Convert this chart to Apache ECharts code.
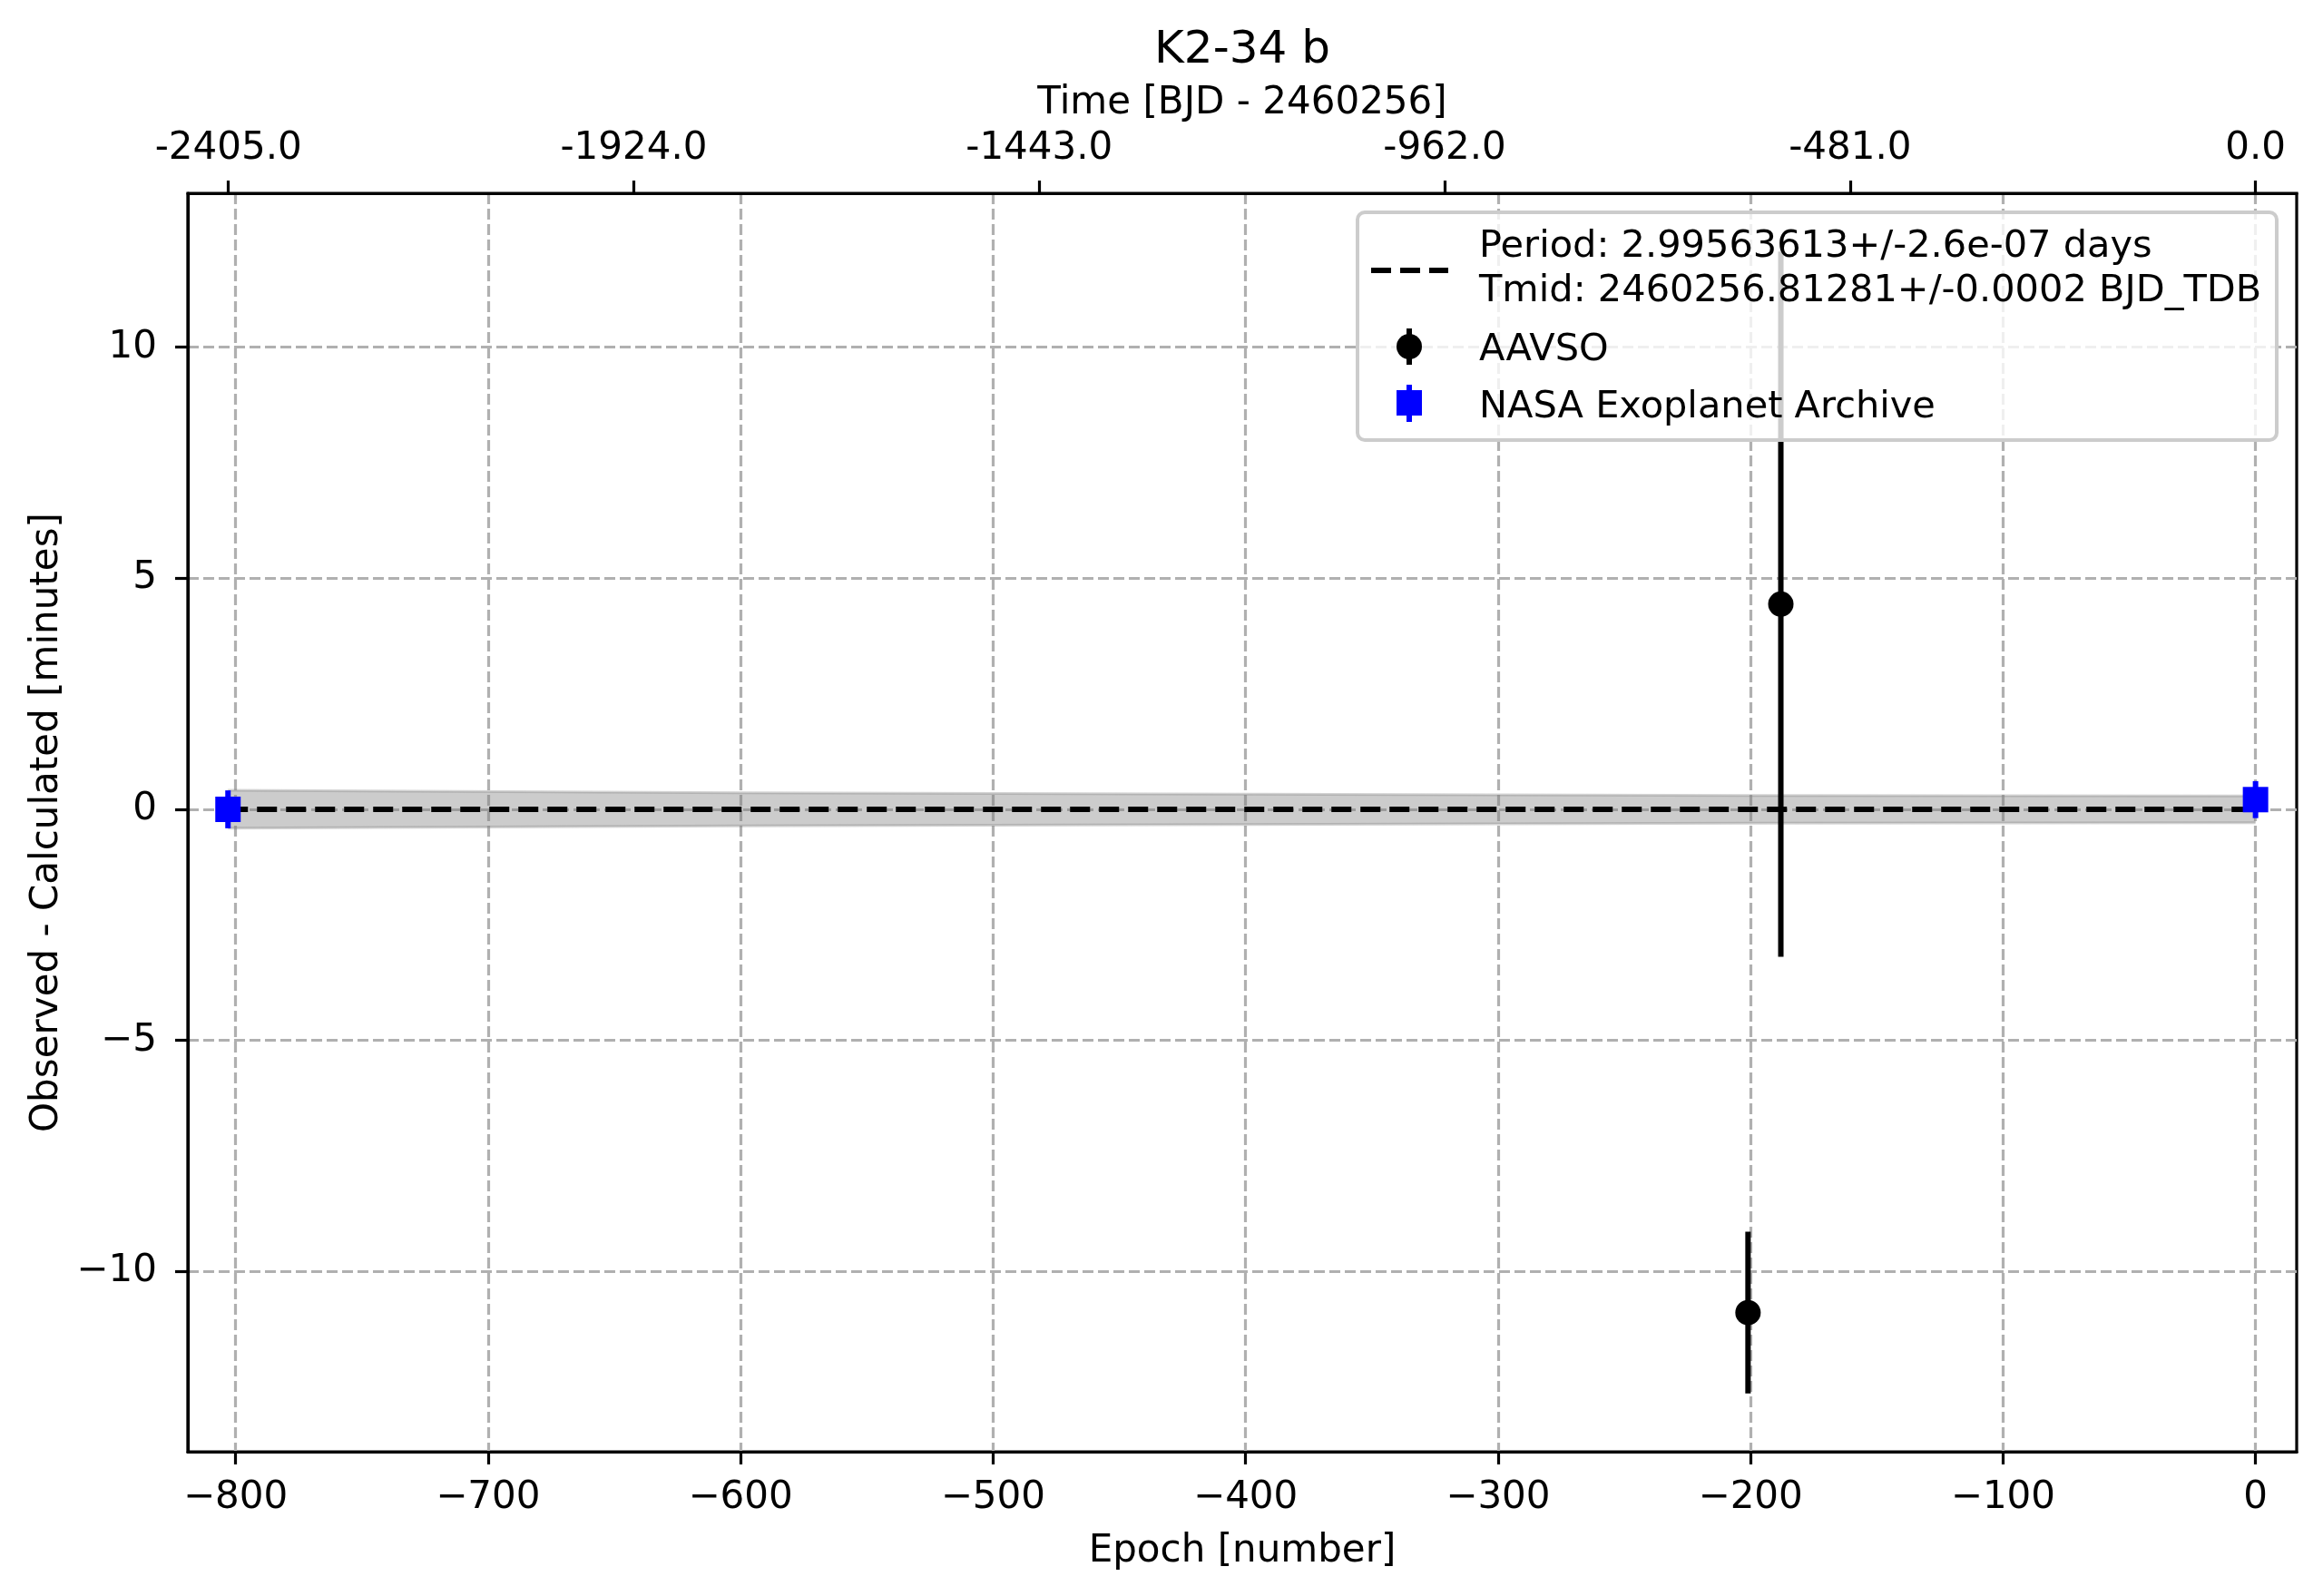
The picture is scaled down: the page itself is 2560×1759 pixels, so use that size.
<!DOCTYPE html>
<html>
<head>
<meta charset="utf-8">
<title>K2-34 b</title>
<script src="https://cdn.jsdelivr.net/npm/echarts@6/dist/echarts.min.js"></script>
<style>
  html, body { margin: 0; padding: 0; background: #ffffff; }
  #chart { width: 2560px; height: 1759px; }
</style>
</head>
<body>
<div id="chart"></div>
<script>
// ephemeris from the fit
const PERIOD = 2.99563613;
const PERIOD_ERR = '2.6e-07';
const TMID = '2460256.81281';
const TMID_ERR = '0.0002';

// axis ranges and ticks
const epochMin = -818.9;
const epochMax = 16.3;
const ocMin = -13.9;
const ocMax = 13.33;
const epochTicks = [-800, -700, -600, -500, -400, -300, -200, -100, 0];
const ocTicks = [-10, -5, 0, 5, 10];
const timeTicks = [-2405.0, -1924.0, -1443.0, -962.0, -481.0, 0.0];

// AAVSO transits (epoch, O-C minutes, error minutes)
const aavsoEpoch = [-201, -188];
const aavsoOC = [-10.89, 4.44];
const aavsoErr = [1.75, 7.63];

// NASA Exoplanet Archive transits
const nasaEpoch = [-803, 0];
const nasaOC = [0.0, 0.21];
const nasaErr = [0.41, 0.40];

// linear ephemeris line and its uncertainty band
const fitEpoch = [-803, 0];
const fitOC = [0, 0];
const bandEpoch = [-803, -600, -400, -200, 0];
const bandHalf = [0.41, 0.36, 0.33, 0.30, 0.29];

const FONT = 'DejaVu Sans';
const FS = 42;
const minus = v => (v < 0 ? '\u2212' + Math.abs(v) : String(v));

const chart = echarts.init(document.getElementById('chart'), null, { renderer: 'canvas' });

function errorBars(name, xs, ys, errs, color) {
    return {
        name: name,
        type: 'custom',
        z: 3,
        silent: true,
        data: xs.map((x, i) => [x, ys[i] - errs[i], ys[i] + errs[i]]),
        encode: { x: 0, y: [1, 2] },
        renderItem: function (params, api) {
            const lo = api.coord([api.value(0), api.value(1)]);
            const hi = api.coord([api.value(0), api.value(2)]);
            return {
                type: 'line',
                shape: { x1: lo[0], y1: lo[1], x2: hi[0], y2: hi[1] },
                style: { stroke: color, lineWidth: 6 }
            };
        }
    };
}

const axisLineStyle = { color: '#000', width: 3.2 };
const gridLineStyle = { color: '#b0b0b0', width: 3.2, type: [12, 5] };
const legendFont = '41.5px "DejaVu Sans"';

const option = {
    animation: false,
    backgroundColor: '#ffffff',
    textStyle: { fontFamily: FONT, color: '#000' },
    title: {
        text: 'K2-34 b',
        left: 1369,
        top: 31,
        padding: 0,
        textAlign: 'center',
        textStyle: { fontFamily: FONT, fontSize: 50, fontWeight: 'normal', color: '#000' }
    },
    grid: {
        left: 207, right: 29, top: 213, bottom: 159,
        show: true, borderColor: '#000', borderWidth: 3.2, backgroundColor: 'transparent'
    },
    xAxis: [
        {
            type: 'value',
            position: 'bottom',
            min: epochMin,
            max: epochMax,
            name: 'Epoch [number]',
            nameLocation: 'middle',
            nameGap: 89,
            nameTextStyle: { fontFamily: FONT, fontSize: FS, color: '#000' },
            axisLine: { show: true, onZero: false, lineStyle: axisLineStyle },
            axisTick: { show: true, length: 14, lineStyle: axisLineStyle, customValues: epochTicks },
            axisLabel: {
                fontFamily: FONT, fontSize: FS, color: '#000', margin: 30,
                customValues: epochTicks, formatter: minus
            },
            splitLine: { show: true, lineStyle: gridLineStyle }
        },
        {
            type: 'value',
            position: 'top',
            min: epochMin * PERIOD,
            max: epochMax * PERIOD,
            name: 'Time [BJD - 2460256]',
            nameLocation: 'middle',
            nameGap: 78,
            nameTextStyle: { fontFamily: FONT, fontSize: FS, color: '#000' },
            axisLine: { show: true, onZero: false, lineStyle: axisLineStyle },
            axisTick: { show: true, length: 14, lineStyle: axisLineStyle, customValues: timeTicks },
            axisLabel: {
                fontFamily: FONT, fontSize: FS, color: '#000', margin: 28,
                customValues: timeTicks, formatter: v => v.toFixed(1)
            },
            splitLine: { show: false }
        }
    ],
    yAxis: {
        type: 'value',
        min: ocMin,
        max: ocMax,
        name: 'Observed - Calculated [minutes]',
        nameLocation: 'middle',
        nameGap: 134,
        nameTextStyle: { fontFamily: FONT, fontSize: FS, color: '#000' },
        axisLine: { show: true, onZero: false, lineStyle: axisLineStyle },
        axisTick: { show: true, length: 14, lineStyle: axisLineStyle, customValues: ocTicks },
        axisLabel: {
            fontFamily: FONT, fontSize: FS, color: '#000', margin: 34,
            customValues: ocTicks, formatter: minus
        },
        splitLine: { show: true, lineStyle: gridLineStyle }
    },
    series: [
        {
            name: 'band',
            type: 'custom',
            z: 1,
            silent: true,
            data: bandEpoch.map((x, i) => [x, -bandHalf[i], bandHalf[i]]),
            encode: { x: 0, y: [1, 2] },
            renderItem: function (params, api) {
                if (params.dataIndex !== 0) return;
                const upper = bandEpoch.map((x, i) => api.coord([x, bandHalf[i]]));
                const lower = bandEpoch.map((x, i) => api.coord([x, -bandHalf[i]]));
                const poly = upper.concat(lower.slice().reverse());
                return {
                    type: 'group',
                    children: [
                        { type: 'polygon', shape: { points: poly }, style: { fill: 'rgba(128,128,128,0.4)' } },
                        { type: 'polyline', shape: { points: upper }, style: { stroke: 'rgba(128,128,128,0.35)', lineWidth: 3, fill: null } },
                        { type: 'polyline', shape: { points: lower }, style: { stroke: 'rgba(128,128,128,0.35)', lineWidth: 3, fill: null } }
                    ]
                };
            }
        },
        {
            name: 'fit',
            type: 'line',
            z: 2,
            silent: true,
            symbol: 'none',
            data: fitEpoch.map((x, i) => [x, fitOC[i]]),
            lineStyle: { color: '#000', width: 6, type: [22, 10] }
        },
        errorBars('AAVSO err', aavsoEpoch, aavsoOC, aavsoErr, '#000000'),
        errorBars('NASA err', nasaEpoch, nasaOC, nasaErr, '#0000ff'),
        {
            name: 'AAVSO',
            type: 'scatter',
            z: 4,
            symbol: 'circle',
            symbolSize: 28,
            itemStyle: { color: '#000000', opacity: 1 },
            data: aavsoEpoch.map((x, i) => [x, aavsoOC[i]])
        },
        {
            name: 'NASA Exoplanet Archive',
            type: 'scatter',
            z: 4,
            symbol: 'rect',
            symbolSize: 28,
            itemStyle: { color: '#0000ff', opacity: 1 },
            data: nasaEpoch.map((x, i) => [x, nasaOC[i]])
        }
    ],
    graphic: [
        {
            type: 'rect', z: 100,
            shape: { x: 1496, y: 234, width: 1013, height: 251, r: 8 },
            style: { fill: 'rgba(255,255,255,0.8)', stroke: '#cccccc', lineWidth: 4 }
        },
        {
            type: 'line', z: 101,
            shape: { x1: 1511, y1: 298, x2: 1596, y2: 298 },
            style: { stroke: '#000', lineWidth: 6, lineDash: [22, 10] }
        },
        {
            type: 'text', z: 101, x: 1630, y: 272,
            style: {
                text: 'Period: ' + PERIOD + '+/-' + PERIOD_ERR + ' days',
                font: legendFont, fill: '#000', verticalAlign: 'middle'
            }
        },
        {
            type: 'text', z: 101, x: 1630, y: 321,
            style: {
                text: 'Tmid: ' + TMID + '+/-' + TMID_ERR + ' BJD_TDB',
                font: legendFont, fill: '#000', verticalAlign: 'middle'
            }
        },
        {
            type: 'line', z: 101,
            shape: { x1: 1553, y1: 362, x2: 1553, y2: 402 },
            style: { stroke: '#000', lineWidth: 6 }
        },
        {
            type: 'circle', z: 102,
            shape: { cx: 1553, cy: 382, r: 14 },
            style: { fill: '#000' }
        },
        {
            type: 'text', z: 101, x: 1630, y: 386,
            style: { text: 'AAVSO', font: legendFont, fill: '#000', verticalAlign: 'middle' }
        },
        {
            type: 'line', z: 101,
            shape: { x1: 1553, y1: 424, x2: 1553, y2: 465 },
            style: { stroke: '#0000ff', lineWidth: 6 }
        },
        {
            type: 'rect', z: 102,
            shape: { x: 1539, y: 430, width: 28, height: 28 },
            style: { fill: '#0000ff' }
        },
        {
            type: 'text', z: 101, x: 1630, y: 449,
            style: { text: 'NASA Exoplanet Archive', font: legendFont, fill: '#000', verticalAlign: 'middle' }
        }
    ]
};

chart.setOption(option);

window.addEventListener('resize', function () {
    chart.resize();
});
</script>
</body>
</html>
